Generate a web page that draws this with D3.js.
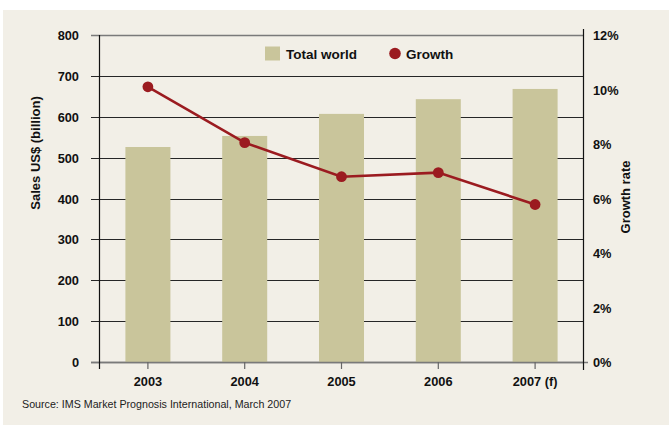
<!DOCTYPE html>
<html>
<head>
<meta charset="utf-8">
<script src="https://cdn.jsdelivr.net/npm/d3@7"></script>
<style>
  body { margin: 0; background: #ffffff; }
  svg { display: block; }
  .lab { font-family: "Liberation Sans", Arial, sans-serif; font-weight: bold; fill: #111; }
</style>
</head>
<body>
<div class="main"></div>
<script>
// data
var years = ["2003", "2004", "2005", "2006", "2007 (f)"];
var sales = [526, 553, 607, 643, 668];          // US$ billion
var growth = [10.1, 8.05, 6.8, 6.95, 5.78];     // %
var salesTicks = [0, 100, 200, 300, 400, 500, 600, 700, 800];
var growthTicks = [0, 2, 4, 6, 8, 10, 12];

var W = 671, H = 427;
var plot = {left: 99.5, right: 583.5, top: 35, bottom: 362};

var svg = d3.select(".main").append("svg")
  .attr("width", W).attr("height", H);

// panel background
svg.append("rect")
  .attr("x", 3).attr("y", 10)
  .attr("width", 666).attr("height", 415)
  .attr("fill", "#f2efe7");

var x = d3.scaleBand().domain(years).range([plot.left, plot.right]).paddingInner(0.535).paddingOuter(0.2675);
var y = d3.scaleLinear().domain([0, 800]).range([plot.bottom, plot.top]);
var y2 = d3.scaleLinear().domain([0, 12]).range([plot.bottom, plot.top]);

// gridlines (with left tick stubs)
svg.append("g").selectAll("line")
  .data(salesTicks)
  .join("line")
  .attr("x1", 91).attr("x2", plot.right)
  .attr("y1", function(d) { return Math.round(y(d)) + 0.5; })
  .attr("y2", function(d) { return Math.round(y(d)) + 0.5; })
  .attr("stroke", function(d) { return (d == 0 || d == 800) ? "#7a7a7a" : "#262626"; })
  .attr("stroke-width", function(d) { return (d == 0 || d == 800) ? 1.6 : 1.2; });

// bars
svg.append("g").selectAll("rect")
  .data(years)
  .join("rect")
  .attr("x", function(d) { return x(d); })
  .attr("width", x.bandwidth())
  .attr("y", function(d, i) { return y(sales[i]); })
  .attr("height", function(d, i) { return plot.bottom - y(sales[i]); })
  .attr("fill", "#c9c59b");

// zero line again on top of bars
svg.append("line")
  .attr("x1", 91).attr("x2", 588)
  .attr("y1", Math.round(y(0)) + 0.5).attr("y2", Math.round(y(0)) + 0.5)
  .attr("stroke", "#7a7a7a").attr("stroke-width", 1.6);

// axis lines
svg.append("line").attr("x1", plot.left).attr("x2", plot.left)
  .attr("y1", plot.top).attr("y2", 369).attr("stroke", "#111").attr("stroke-width", 1.2);
svg.append("line").attr("x1", plot.right).attr("x2", plot.right)
  .attr("y1", 29).attr("y2", 370).attr("stroke", "#111").attr("stroke-width", 1.2);

// left axis labels
var yAxis = d3.axisLeft(y).tickValues(salesTicks).tickSize(0).tickPadding(0);
var gy = svg.append("g").attr("transform", "translate(79,0)").call(yAxis);
gy.select(".domain").remove();
gy.selectAll("text").attr("class", "lab").style("font-size", "12.8px").attr("dy", "0.36em");

// right axis labels
var y2Axis = d3.axisRight(y2).tickValues(growthTicks).tickSize(0).tickPadding(0)
  .tickFormat(function(d) { return d + "%"; });
var gy2 = svg.append("g").attr("transform", "translate(593,0)").call(y2Axis);
gy2.select(".domain").remove();
gy2.selectAll("text").attr("class", "lab").style("font-size", "12.8px").attr("dy", "0.36em");

// x axis ticks and labels
var xAxis = d3.axisBottom(x).tickSize(7).tickPadding(8);
var gx = svg.append("g").attr("transform", "translate(0," + plot.bottom + ")").call(xAxis);
gx.select(".domain").remove();
gx.selectAll("line").attr("stroke", "#666").attr("stroke-width", 1.2);
gx.selectAll("text").attr("class", "lab").style("font-size", "12.8px");

// growth line
var line = d3.line()
  .x(function(d, i) { return x(years[i]) + x.bandwidth() / 2; })
  .y(function(d) { return y2(d); });
svg.append("path")
  .datum(growth)
  .attr("d", line)
  .attr("fill", "none")
  .attr("stroke", "#9b1b20")
  .attr("stroke-width", 2.6);
svg.append("g").selectAll("circle")
  .data(growth)
  .join("circle")
  .attr("cx", function(d, i) { return x(years[i]) + x.bandwidth() / 2; })
  .attr("cy", function(d) { return y2(d); })
  .attr("r", 5.4)
  .attr("fill", "#9b1b20");

// legend
svg.append("rect").attr("x", 265).attr("y", 46.5).attr("width", 15).attr("height", 14).attr("fill", "#c9c59b");
svg.append("text").attr("class", "lab").attr("x", 286).attr("y", 58.5).style("font-size", "13.5px").text("Total world");
svg.append("circle").attr("cx", 395).attr("cy", 53.5).attr("r", 5.8).attr("fill", "#9b1b20");
svg.append("text").attr("class", "lab").attr("x", 406).attr("y", 58.5).style("font-size", "13.5px").text("Growth");

// axis titles
svg.append("text").attr("class", "lab")
  .attr("transform", "translate(39.5,153) rotate(-90)")
  .attr("text-anchor", "middle").style("font-size", "13px")
  .text("Sales US$ (billion)");
svg.append("text").attr("class", "lab")
  .attr("transform", "translate(629.5,197) rotate(-90)")
  .attr("text-anchor", "middle").style("font-size", "13px")
  .text("Growth rate");

// source
svg.append("text")
  .attr("x", 22).attr("y", 408)
  .style("font-family", "Liberation Sans, Arial, sans-serif")
  .style("font-size", "10.7px").attr("fill", "#222")
  .text("Source: IMS Market Prognosis International, March 2007");
</script>
</body>
</html>
